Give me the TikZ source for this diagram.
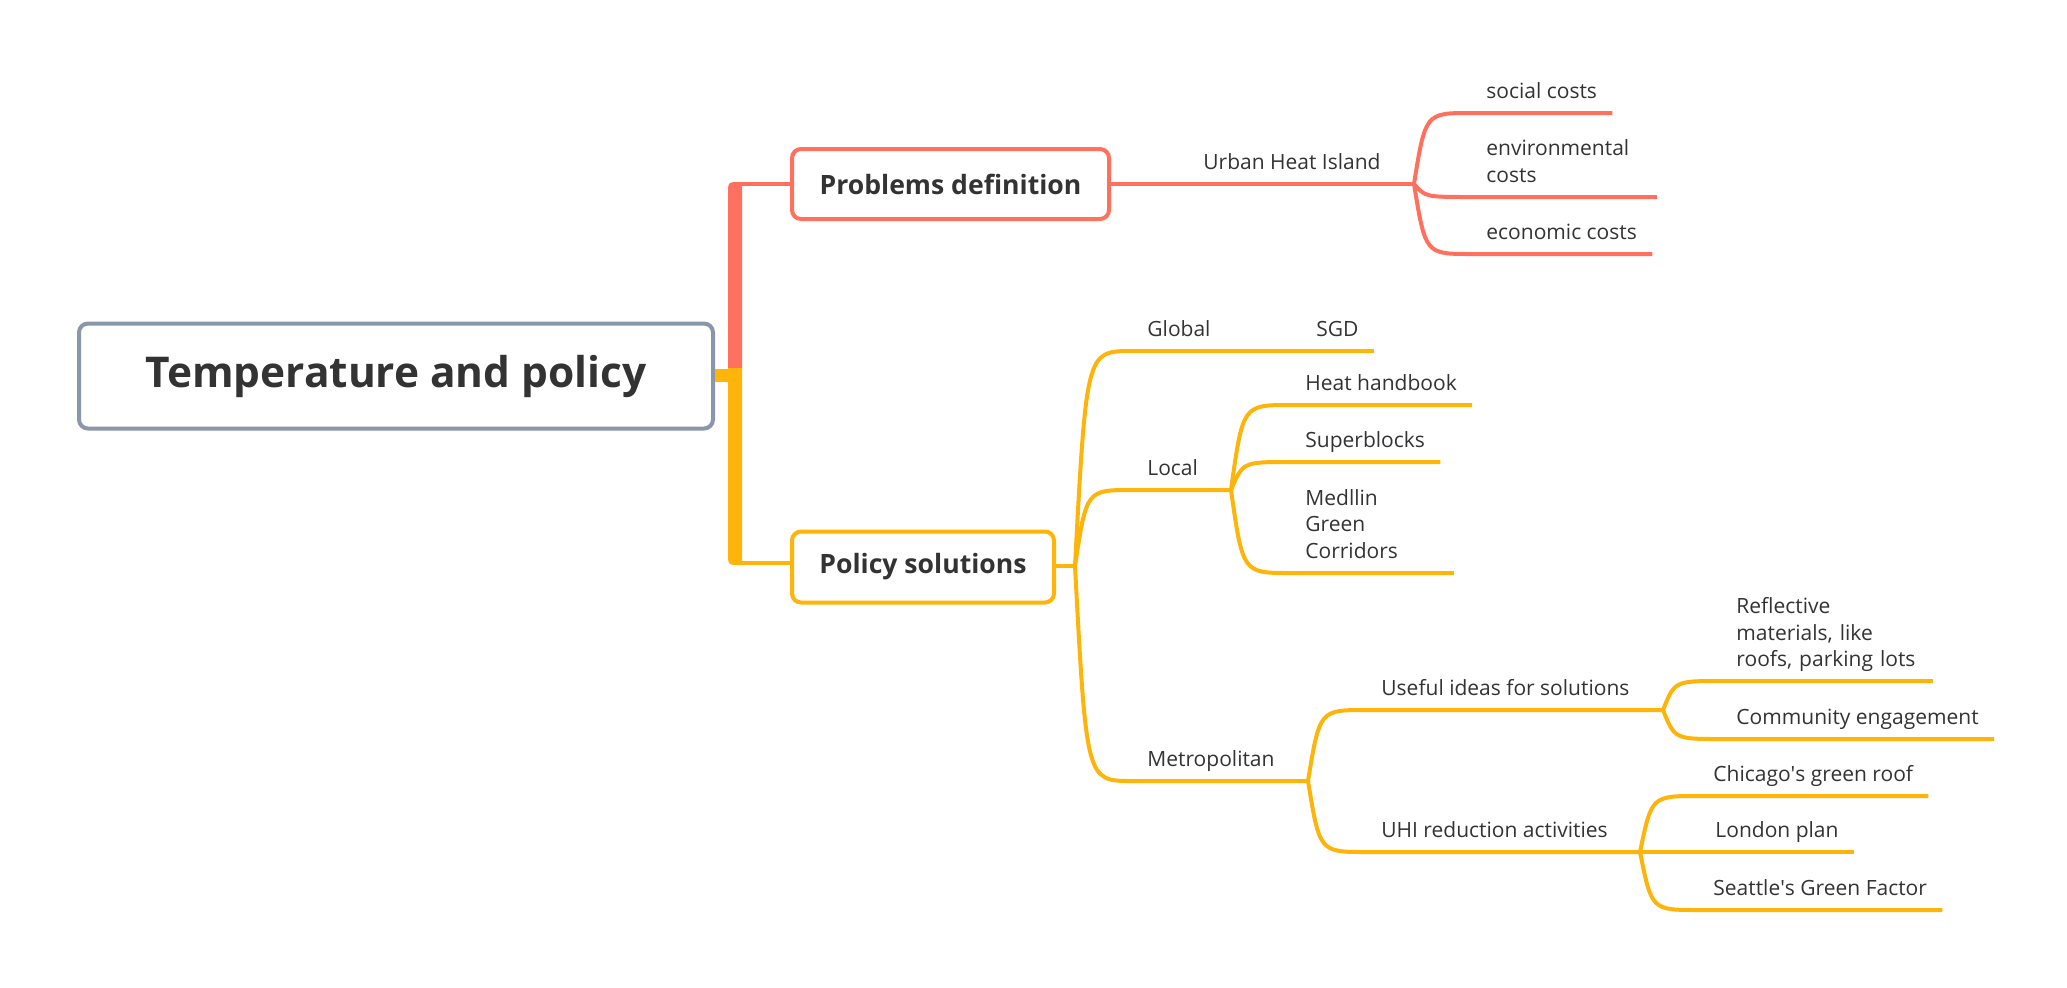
\documentclass[tikz,border=0pt]{standalone}
\usepackage{fontspec}
\setmainfont{Open Sans}
\usetikzlibrary{calc}
\definecolor{coral}{HTML}{FF705E}
\definecolor{amber}{HTML}{FFB40A}
\definecolor{slate}{HTML}{8A96AA}
\definecolor{ink}{HTML}{333333}
\tikzset{
  topic/.style={draw, line width=2pt, rounded corners=4.5pt, fill=white, text=ink, inner sep=0pt},
  leafbase/.style={anchor=south west, inner xsep=7.5pt, inner ysep=7pt, text=ink, align=left,
    font=\fontsize{10.5pt}{13.25pt}\selectfont},
  leaf/.style={leafbase, text depth=0pt},
  leafm/.style={leafbase, text width=#1},
  wire/.style={line width=2pt},
  fan/.style={to path={.. controls ($(\tikztostart |- \tikztotarget)!0.2!(\tikztotarget)$) .. (\tikztotarget)}}
}
\begin{document}
\begin{tikzpicture}[x=0.5pt, y=-0.5pt]
    \useasboundingbox (0,0) rectangle (2067,987);
    \node[topic, draw=slate, minimum width=317pt, minimum height=52.5pt,
      font=\fontsize{21.2pt}{25pt}\selectfont\bfseries] (root) at (396,376) {Temperature and policy};
    \node[topic, draw=coral, minimum width=158.5pt, minimum height=35pt,
      font=\fontsize{13.3pt}{16pt}\selectfont\bfseries] (prob) at (950.5,184) {Problems definition};
    \node[topic, draw=amber, minimum width=131pt, minimum height=35.5pt,
      font=\fontsize{13.3pt}{16pt}\selectfont\bfseries] (pol) at (923,567) {Policy solutions};

    % trunk
    \fill[coral] (728,370) -- (728,194) .. controls (728,182) .. (740,182) -- (742,182) -- (742,370) -- cycle;
    \fill[amber] (728,368) -- (728,553) .. controls (728,565) .. (740,565) -- (742,565) -- (742,368) -- cycle;
    \fill[amber] (root.east) ++(0,-7) rectangle (742,382);
    \coordinate (hubR) at (740,184);
    \coordinate (hubY) at (740,563);
    \draw[coral, wire] (hubR) -- (prob.west);
    \draw[amber, wire] (hubY) -- (pol.west |- hubY);

    % problems
    \node[leaf] (uhi) at (1188,184) {Urban Heat Island};
    \coordinate (uhiB) at (1414,184);
    \node[leaf] (soc) at (1471,113) {social costs};
    \node[leafm=77.5pt] (env) at (1471,197) {environmental\\costs};
    \node[leaf] (eco) at (1471,254) {economic costs};
    \draw[coral, wire] (prob.east) -- (uhi.south west) -- (uhi.south east) -- (uhiB);
    \draw[coral, wire] (uhiB) to[fan] (soc.south west) -- (soc.south east);
    \draw[coral, wire] (uhiB) to[fan] (env.south west) -- (env.south east);
    \draw[coral, wire] (uhiB) to[fan] (eco.south west) -- (eco.south east);

    % solutions
    \coordinate (polB) at (1075,566);
    \node[leaf] (glob) at (1132,351) {Global};
    \node[leaf] (sgd) at (1301,351) {SGD};
    \node[leaf] (loc) at (1132,490) {Local};
    \coordinate (locB) at (1231,490);
    \node[leaf] (hh) at (1290,405) {Heat handbook};
    \node[leaf] (sup) at (1290,462) {Superblocks};
    \node[leafm=66.5pt] (med) at (1290,573) {Medllin\\Green\\Corridors};
    \node[leaf] (met) at (1132,781) {Metropolitan};
    \coordinate (metB) at (1308,781);
    \node[leaf] (use) at (1366,710) {Useful ideas for solutions};
    \coordinate (useB) at (1663,710);
    \node[leaf] (uhr) at (1366,852) {UHI reduction activities};
    \coordinate (uhrB) at (1640,852);
    \node[leafm=90.5pt, inner ysep=4.5pt] (refl) at (1721,681) {Reflective\\materials, like\\roofs, parking lots};
    \node[leaf] (comm) at (1721,739) {Community engagement};
    \node[leaf] (chi) at (1698,796) {Chicago\textquotesingle s green roof};
    \node[leaf] (lon) at (1700,852) {London plan};
    \node[leaf] (sea) at (1698,910) {Seattle\textquotesingle s Green Factor};

    \draw[amber, wire] (pol.east |- polB) -- (polB);
    \draw[amber, wire] (polB) to[fan] (glob.south west) -- (glob.south east) -- (sgd.south west) -- (sgd.south east);
    \draw[amber, wire] (polB) to[fan] (loc.south west) -- (loc.south east) -- (locB);
    \draw[amber, wire] (polB) to[fan] (met.south west) -- (met.south east) -- (metB);
    \draw[amber, wire] (locB) to[fan] (hh.south west) -- (hh.south east);
    \draw[amber, wire] (locB) to[fan] (sup.south west) -- (sup.south east);
    \draw[amber, wire] (locB) to[fan] (med.south west) -- (med.south east);
    \draw[amber, wire] (metB) to[fan] (use.south west) -- (use.south east) -- (useB);
    \draw[amber, wire] (metB) to[fan] (uhr.south west) -- (uhr.south east) -- (uhrB);
    \draw[amber, wire] (useB) to[fan] (refl.south west) -- (refl.south east);
    \draw[amber, wire] (useB) to[fan] (comm.south west) -- (comm.south east);
    \draw[amber, wire] (uhrB) to[fan] (chi.south west) -- (chi.south east);
    \draw[amber, wire] (uhrB) -- (lon.south west) -- (lon.south east);
    \draw[amber, wire] (uhrB) to[fan] (sea.south west) -- (sea.south east);
\end{tikzpicture}
\end{document}
